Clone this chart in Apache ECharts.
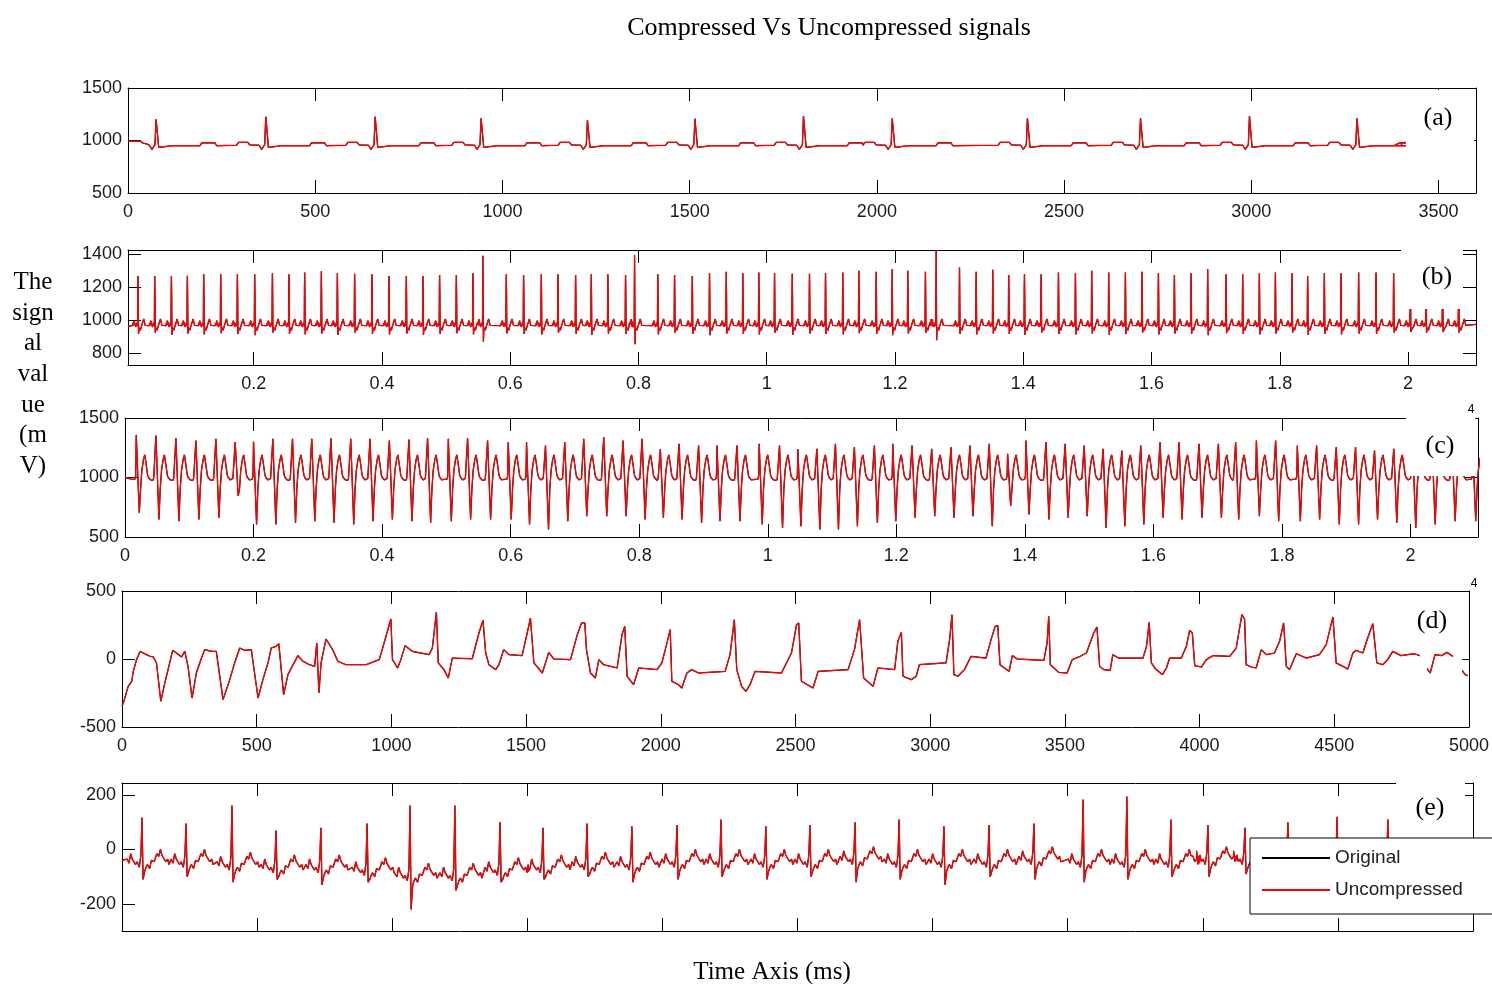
<!DOCTYPE html>
<html>
<head>
<meta charset="utf-8">
<title>Compressed Vs Uncompressed signals</title>
<script src="https://cdn.jsdelivr.net/npm/echarts@6/dist/echarts.min.js"></script>
<style>
  html, body { margin: 0; padding: 0; background: #fff; }
  #chart { width: 1492px; height: 984px; }
</style>
</head>
<body>
<div id="chart"></div>
<script>
// ---- data ----
// (a) R peaks (ms) and heights
let aBeats = [77, 370, 662, 945, 1229, 1516, 1806, 2043, 2404, 2706, 2997, 3284];
let aR = [1202, 1227, 1227, 1211, 1195, 1208, 1233, 1211, 1211, 1211, 1233, 1211];
// beat shape of (a): [offset, value]
let aShape = [[-80, 955], [-75, 982], [-50, 982], [-45, 958], [-20, 955], [-13, 915], [-5, 960], [-2, 'R'], [2, 'R'],
  [5, 935], [9, 952], [40, 950], [115, 950], [120, 978], [155, 978], [160, 950]];
let aHead = [[0, 995], [32, 995], [40, 975], [50, 968]];
let aTail = [[3380, 950], [3395, 975], [3411, 982]];

// (b) R peaks (x 10^4), heights and dips after R
let bBeats = [0.0196, 0.0457, 0.0717, 0.0966, 0.1221, 0.1486, 0.1746, 0.2016, 0.2292, 0.2550, 0.2795, 0.3055, 0.3305,
  0.3574, 0.3844, 0.4109, 0.4380, 0.4639, 0.4899, 0.5160, 0.5419, 0.5574,
  0.5939, 0.6209, 0.6485, 0.6744, 0.7020, 0.7264, 0.7523, 0.7799, 0.7939, 0.8302, 0.8563, 0.8839, 0.9108, 0.9369,
  0.9627, 0.9877, 1.0122, 1.0398, 1.0667, 1.0917, 1.1186, 1.1436, 1.1707, 1.1956, 1.2200, 1.2475, 1.2642, 1.3006,
  1.3266, 1.3525,
  1.3774, 1.4019, 1.4279, 1.4549, 1.4814, 1.5068, 1.5333, 1.5593, 1.5853, 1.6108, 1.6357, 1.6617, 1.6876, 1.7163,
  1.7422, 1.7682, 1.7932, 1.8192, 1.8435, 1.8695, 1.8955, 1.9230, 1.9501, 1.9776, 2.0036, 2.0281, 2.0539, 2.0789];
let bR = [1268, 1268, 1268, 1270, 1279, 1279, 1279, 1279, 1285, 1279, 1289, 1297, 1285, 1282, 1279, 1268, 1268, 1268,
  1274, 1274, 1285, 1390,
  1279, 1274, 1279, 1279, 1274, 1279, 1279, 1274, 1395, 1279, 1274, 1268, 1285, 1294, 1285, 1289, 1285, 1282, 1282,
  1285, 1289, 1299, 1294, 1309, 1299, 1294, 1425, 1319, 1294, 1305,
  1274, 1279, 1279, 1289, 1285, 1299, 1289, 1289, 1294, 1285, 1274, 1285, 1309, 1279, 1279, 1285, 1289, 1285, 1268,
  1285, 1285, 1289, 1289, 1285, 1280, 1280, 1280, 1280];
let bS = [918, 925, 912, 920, 915, 922, 918, 910, 925, 918, 915, 920, 912, 925, 918, 915, 920, 912, 918, 922, 915, 870,
  920, 918, 915, 925, 918, 912, 920, 918, 855, 915, 925, 918, 910, 920, 918, 915, 925, 912, 920, 918, 915, 922, 918,
  910, 920, 925, 880, 918, 915, 920,
  918, 912, 925, 918, 915, 920, 912, 918, 925, 915, 920, 918, 910, 922, 918, 915, 920, 925, 912, 918, 915, 920, 918,
  925, 930, 925, 930, 925];
let bShape = [[-0.0085, 968], [-0.0078, 985], [-0.0070, 970], [-0.0064, 998], [-0.0058, 1005], [-0.0051, 990],
  [-0.0045, 975], [-0.0038, 960], [-0.0030, 972], [-0.0022, 958], [-0.0015, 985], [-0.0006, 965], [-0.0003, 1185],
  [0, 'R'], [0.0004, 1150], [0.0008, 'S'], [0.0014, 940], [0.0020, 928], [0.0026, 948], [0.0030, 955],
  [0.0038, 940], [0.0045, 952], [0.0052, 962], [0.0060, 950], [0.0067, 972], [0.0075, 990], [0.0082, 978],
  [0.0090, 1008], [0.0097, 995], [0.0105, 985], [0.0112, 970], [0.0120, 962]];

// (c) S dips (x 10^4), R heights and S depths
let cBeats = [0.0222, 0.0528, 0.0839, 0.1150, 0.1461, 0.1761, 0.2047, 0.2347, 0.2653, 0.2953, 0.3252, 0.3559, 0.3859,
  0.4160, 0.4465, 0.4755, 0.5077, 0.5377, 0.5688,
  0.6009, 0.6294, 0.6589, 0.6889, 0.7184, 0.7495, 0.7796, 0.8092, 0.8376, 0.8667, 0.8971, 0.9257, 0.9568, 0.9914,
  1.0230, 1.0516, 1.0811, 1.1100, 1.1395, 1.1706, 1.1992, 1.2292, 1.2598, 1.2898, 1.3193, 1.3493,
  1.3779, 1.4064, 1.4375, 1.4674, 1.4970, 1.5265, 1.5556, 1.5851, 1.6151, 1.6446, 1.6757, 1.7058, 1.7327, 1.7649,
  1.7949, 1.8286, 1.8586, 1.8892, 1.9192, 1.9487, 1.9787, 2.0082, 2.0384, 2.0695, 2.1015];
let cR = [1358, 1353, 1330, 1311, 1325, 1297, 1300, 1325, 1325, 1325, 1330, 1325, 1325, 1311, 1320, 1330, 1325, 1330, 1311,
  1297, 1297, 1269, 1297, 1325, 1339, 1311, 1325, 1240, 1283, 1269, 1269, 1269, 1283, 1269, 1240, 1241, 1283, 1255,
  1269, 1283, 1269, 1241, 1255, 1269, 1283,
  1200, 1311, 1297, 1283, 1269, 1241, 1227, 1269, 1297, 1297, 1283, 1283, 1297, 1311, 1311, 1269, 1269, 1255, 1255,
  1227, 1241, 1241, 1255, 1241, 1241];
let cS = [703, 647, 633, 647, 661, 845, 605, 605, 619, 633, 619, 605, 633, 647, 633, 619, 633, 647, 647,
  647, 605, 563, 633, 675, 675, 675, 647, 661, 647, 619, 633, 633, 605, 576, 591, 563, 563, 591, 619, 633, 661, 675,
  661, 675, 591,
  760, 690, 647, 661, 675, 576, 591, 605, 661, 647, 661, 661, 647, 675, 633, 633, 647, 605, 605, 647, 619, 576, 605,
  633, 633];
let cShape = [[-0.0110, 985], [-0.0095, 975], [-0.0082, 992], [-0.0070, 985], [-0.0056, 1008], [-0.0047, 'R'], [0, 'S'],
  [0.0020, 900], [0.0040, 1060], [0.0052, 1045], [0.0065, 1150], [0.0085, 1190], [0.0095, 1175], [0.0105, 1120],
  [0.0130, 1020], [0.0145, 1000], [0.0160, 990], [0.0175, 980], [0.0190, 988]];

// (d) traced vertices [ms, mV]
let dPoints = [[0, -345], [5, -324], [23, -201], [36, -164], [42, -91], [54, -5], [67, 56], [79, 44], [91, 32], [104, 20],
  [116, 15], [128, -29], [144, -311], [159, -176], [171, -78], [188, 64], [202, 44], [221, 15], [233, 56], [245, -54],
  [260, -287], [276, -103], [295, 7], [307, 69], [332, 56], [350, 56], [375, -299], [400, -152], [418, -29], [437, 81],
  [455, 64], [480, 69], [505, -287], [523, -152], [542, -29], [554, 81], [572, 93], [582, 113], [600, -262], [616, -115],
  [635, -42], [653, 25], [672, -17], [696, -42], [715, -54], [723, 118], [731, -250], [739, -29], [757, 147], [782, 69],
  [801, -17], [831, -42], [906, -42], [955, -5], [980, 167], [998, 294], [1004, -5], [1023, -66], [1035, -5], [1051, 98],
  [1078, 56], [1140, 32], [1152, 81], [1167, 343], [1174, -29], [1195, -78], [1211, -140], [1226, 7], [1300, 2],
  [1325, 191], [1340, 284], [1350, 44], [1362, -42], [1387, -78], [1399, -42], [1417, 69], [1436, 32], [1485, 25],
  [1504, 191], [1516, 301], [1529, -29], [1545, -66], [1560, -103], [1572, -29], [1584, 49], [1603, 0], [1665, -5],
  [1690, 179], [1706, 265], [1718, 265], [1724, 69], [1739, -103], [1757, -140], [1770, -5], [1788, -42], [1838, -66],
  [1856, 179], [1866, 240], [1875, -127], [1899, -189], [1918, -66], [1986, -78], [2004, -29], [2023, 118], [2035, 216],
  [2041, -164], [2066, -189], [2078, -213], [2097, -103], [2115, -78], [2140, -103], [2239, -91], [2257, 32], [2273, 289],
  [2282, -78], [2300, -201], [2316, -238], [2331, -189], [2350, -91], [2448, -103], [2485, 44], [2504, 252], [2512, 265],
  [2522, -164], [2565, -213], [2584, -91], [2695, -78], [2719, 69], [2738, 289], [2753, -140], [2788, -201], [2806, -66],
  [2868, -78], [2880, 130], [2893, 196], [2899, -127], [2930, -152], [2948, -127], [2960, -42], [3059, -29], [3072, 142],
  [3081, 326], [3088, -115], [3103, -127], [3127, -78], [3152, 20], [3207, 7], [3226, 142], [3241, 240], [3251, 245],
  [3259, -42], [3293, -91], [3305, 25], [3323, 0], [3422, -10], [3434, 118], [3440, 314], [3446, -42], [3477, -98],
  [3508, -103], [3527, -5], [3557, 20], [3580, 44], [3607, 191], [3619, 235], [3629, -54], [3644, -78], [3668, -83],
  [3678, 32], [3699, 7], [3790, 7], [3803, 93], [3813, 270], [3821, -29], [3837, -74], [3862, -115], [3877, -66],
  [3889, 7], [3932, 7], [3951, 93], [3963, 211], [3973, 191], [3982, -49], [4007, -59], [4025, -5], [4050, 25],
  [4112, 20], [4136, 81], [4157, 326], [4167, 294], [4173, -42], [4192, -59], [4210, -66], [4229, 69], [4248, 32],
  [4278, 44], [4297, 130], [4312, 265], [4322, -54], [4334, -78], [4359, 39], [4396, 7], [4445, 32], [4470, 105],
  [4495, 309], [4507, -29], [4532, -54], [4550, -74], [4569, 44], [4581, 64], [4606, 44], [4624, 154], [4643, 260],
  [4658, -29], [4680, -42], [4698, -5], [4717, 56], [4748, 25], [4797, 39], [4831, 15], [4840, -59], [4856, -103],
  [4874, 32], [4899, 25], [4918, 49], [4959, -5], [4964, -59], [4986, -115], [4996, -123]];

// (e) R peaks (ms), heights, dips and local baseline
let eBeats = [74, 237, 407, 570, 736, 907, 1066, 1232, 1399, 1558, 1721, 1887, 2054, 2217, 2383, 2546, 2713, 2876,
  3042, 3209, 3375, 3557, 3719, 3882, 4019, 4156, 4315, 4497, 4685, 4859];
let eR = [117, 95, 161, 70, 80, 95, 161, 161, 100, 80, 95, 85, 90, 110, 85, 90, 100, 110, 85, 90, 95, 183, 194, 110,
  90, 80, 100, 120, 110, 90];
let eS = [-110, -100, -120, -110, -130, -120, -220, -150, -120, -110, -100, -120, -110, -100, -110, -100, -120, -110,
  -130, -100, -110, -120, -110, -100, -100, -90, -100, -100, -100, -100];
let eBase = [-40, -40, -50, -60, -60, -70, -90, -90, -70, -60, -50, -50, -40, -40, -40, -40, -30, -40, -40, -40, -30,
  -40, -40, -40, -30, -30, -40, -40, -40, -40];
let eShape = [[-55, 5], [-48, -10], [-42, 25], [-36, 5], [-30, 10], [-24, -15], [-18, -5], [-10, -25], [-4, 20],
  [0, 'R'], [4, 'S'], [10, -40], [15, -25], [20, -15], [28, -30], [35, 0], [45, -5], [55, 25], [62, 15], [68, 40],
  [74, 18], [80, 20], [88, -5], [95, 5], [100, -15], [105, -10]];

// axis ranges and ticks
let aXRange = [0, 3600], aYRange = [500, 1500];
let bXRange = [0.004, 2.106], bYRange = [730, 1425];
let cXRange = [0, 2.105], cYRange = [500, 1500];
let dXRange = [0, 5000], dYRange = [-500, 500];
let eXRange = [0, 5000], eYRange = [-299, 244];
let msTicks = [0, 500, 1000, 1500, 2000, 2500, 3000, 3500, 4000, 4500, 5000];
let aXTicks = [0, 500, 1000, 1500, 2000, 2500, 3000, 3500];
let e4Ticks = [0, 0.2, 0.4, 0.6, 0.8, 1, 1.2, 1.4, 1.6, 1.8, 2];
let aYTicks = [500, 1000, 1500];
let bYTicks = [800, 1000, 1200, 1400];
let dYTicks = [-500, 0, 500];
let eYTicks = [-200, 0, 200];

// ---- build lines ----
function beatLine(beats, shape, R, S, base) {
  let pts = [];
  beats.forEach((x0, i) => {
    shape.forEach(p => {
      let v = p[1] === 'R' ? R[i] : p[1] === 'S' ? S[i] : (base ? base[i] + p[1] : p[1]);
      pts.push([x0 + p[0], v]);
    });
  });
  return pts.sort((a, b) => a[0] - b[0]);
}

let aLine = aHead.concat(beatLine(aBeats, aShape, aR).filter(p => p[0] > 55), aTail);
let bLine = [[0.004, 965]].concat(beatLine(bBeats, bShape, bR, bS), [[2.106, 975]]);
let cLine = [[0, 1000]].concat(beatLine(cBeats, cShape, cR, cS));
let dLine = dPoints;
let eLine = [[0, -40]].concat(beatLine(eBeats, eShape, eR, eS, eBase), [[5000, -60]]);

const sans = "'Liberation Sans',Arial,sans-serif";
const serif = "'Liberation Serif','DejaVu Serif',serif";

let chart = echarts.init(document.getElementById("chart"));

let panels = [
  { g: { left: 128, top: 88, width: 1348, height: 105 }, xr: aXRange, yr: aYRange, xt: aXTicks, yt: aYTicks, xl: true, line: aLine },
  { g: { left: 128, top: 250, width: 1348, height: 115 }, xr: bXRange, yr: bYRange, xt: e4Ticks.slice(1), yt: bYTicks, xl: true, line: bLine },
  { g: { left: 125, top: 418, width: 1353, height: 119 }, xr: cXRange, yr: cYRange, xt: e4Ticks, yt: aYTicks, xl: true, line: cLine },
  { g: { left: 122, top: 591, width: 1351, height: 136 }, xr: dXRange, yr: dYRange, xt: msTicks, yt: dYTicks, xl: true, line: dLine },
  { g: { left: 122, top: 783, width: 1351, height: 148 }, xr: eXRange, yr: eYRange, xt: msTicks, yt: eYTicks, xl: false, line: eLine }
];

let labelStyle = { fontFamily: sans, fontSize: 18, color: "#1a1a1a" };
let fmt = v => String(+(+v).toFixed(1));

let grid = [], xAxis = [], yAxis = [], series = [];
panels.forEach((p, i) => {
  grid.push(p.g);
  ["bottom", "top"].forEach(pos => {
    xAxis.push({
      type: "value", gridIndex: i, position: pos, min: p.xr[0], max: p.xr[1],
      axisLine: { show: true, onZero: false, lineStyle: { color: "#000", width: 1 } },
      axisTick: { show: true, inside: true, length: 13, customValues: p.xt, lineStyle: { color: "#000" } },
      axisLabel: Object.assign({ show: pos === "bottom" && p.xl, customValues: p.xt, margin: 10, formatter: fmt }, labelStyle),
      splitLine: { show: false }
    });
  });
  ["left", "right"].forEach(pos => {
    yAxis.push({
      type: "value", gridIndex: i, position: pos, min: p.yr[0], max: p.yr[1],
      axisLine: { show: true, onZero: false, lineStyle: { color: "#000", width: 1 } },
      axisTick: { show: true, inside: true, length: 13, customValues: p.yt, lineStyle: { color: "#000" } },
      axisLabel: Object.assign({ show: pos === "left", customValues: p.yt, margin: 6, formatter: fmt }, labelStyle),
      splitLine: { show: false }
    });
  });
  series.push({
    name: "Original", type: "line", xAxisIndex: 2 * i, yAxisIndex: 2 * i, data: p.line,
    showSymbol: false, symbol: "none", lineStyle: { color: "#000", width: 1.2 }, itemStyle: { color: "#000" },
    animation: false, silent: true, z: 2
  });
  series.push({
    name: "Uncompressed", type: "line", xAxisIndex: 2 * i, yAxisIndex: 2 * i, data: p.line,
    showSymbol: false, symbol: "none", lineStyle: { color: "#ff0000", width: 1.3 }, itemStyle: { color: "#ff0000" },
    animation: false, silent: true, z: 3
  });
});

// white label boxes that sit over the plots, as in the picture
let boxes = [[1406, 90, 68, 59], [1401, 246, 62, 63], [1406, 414, 69, 62], [1420, 630, 7, 60], [1453, 630, 9, 50], [1396, 780, 69, 58]];
let tags = [["(a)", 1438, 118], ["(b)", 1437, 277], ["(c)", 1440, 446], ["(d)", 1432, 621], ["(e)", 1430, 808]];

let graphic = [];
boxes.forEach(b => graphic.push({ type: "rect", z: 100, shape: { x: b[0], y: b[1], width: b[2], height: b[3] }, style: { fill: "#fff" } }));
tags.forEach(t => graphic.push({
  type: "text", z: 101, style: { text: t[0], x: t[1], y: t[2], align: "center", verticalAlign: "middle", font: "26px " + serif, fill: "#000" }
}));
graphic.push(
  { type: "text", z: 101, style: { text: "Compressed Vs Uncompressed signals", x: 829, y: 28, align: "center", verticalAlign: "middle", font: "26px " + serif, fill: "#000" } },
  { type: "text", z: 101, style: { text: "The\nsign\nal\nval\nue\n(m\nV)", x: 33, y: 267, align: "center", verticalAlign: "top", lineHeight: 30.7, font: "25px " + serif, fill: "#000" } },
  { type: "text", z: 101, style: { text: "Time Axis (ms)", x: 772, y: 972, align: "center", verticalAlign: "middle", font: "25px " + serif, fill: "#000" } },
  { type: "text", z: 101, style: { text: "4", x: 1471, y: 410, align: "center", verticalAlign: "middle", font: "12px " + sans, fill: "#000" } },
  { type: "text", z: 101, style: { text: "4", x: 1474, y: 584, align: "center", verticalAlign: "middle", font: "12px " + sans, fill: "#000" } }
);

let option = {
  backgroundColor: "#fff",
  animation: false,
  grid: grid,
  xAxis: xAxis,
  yAxis: yAxis,
  legend: {
    left: 1250, top: 838, orient: "vertical", z: 110,
    data: ["Original", "Uncompressed"],
    icon: "rect", itemWidth: 68, itemHeight: 2, itemGap: 10,
    padding: [9, 60, 13, 12],
    backgroundColor: "#fff", borderColor: "#000", borderWidth: 1, borderRadius: 0,
    selectedMode: false,
    textStyle: { fontFamily: sans, fontSize: 19, color: "#222", lineHeight: 22 }
  },
  graphic: graphic,
  series: series
};
chart.setOption(option, true);
</script>
</body>
</html>
